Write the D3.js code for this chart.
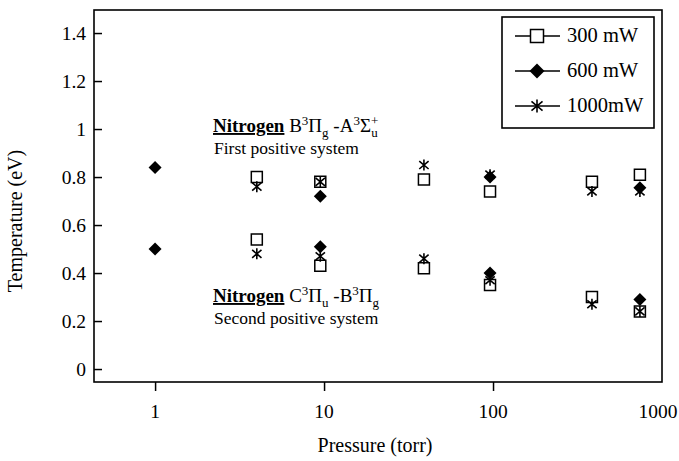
<!DOCTYPE html>
<html>
<head>
<meta charset="utf-8">
<script src="https://cdn.jsdelivr.net/npm/d3@7"></script>
<style>
    body { margin: 0; background: #fff; }
    svg text { font-family: "Liberation Serif", "Times New Roman", Times, serif; fill: #000; }
</style>
</head>
<body>
<script>
//pressures (torr) where each power level was measured
var pressures300 = [4, 9.5, 39, 96, 385, 740];
var pressures600 = [1, 9.5, 96, 740];
var pressures1000 = [4, 9.5, 39, 96, 385, 740];

//first positive system temperatures (eV)
var first300 = [0.80, 0.78, 0.79, 0.74, 0.78, 0.81];
var first600 = [0.84, 0.72, 0.80, 0.755];
var first1000 = [0.76, 0.78, 0.85, 0.81, 0.74, 0.74];

//second positive system temperatures (eV)
var second300 = [0.54, 0.43, 0.42, 0.35, 0.30, 0.24];
var second600 = [0.50, 0.51, 0.40, 0.29];
var second1000 = [0.48, 0.47, 0.46, 0.37, 0.27, 0.24];

//tick labels
var xTicks = [1, 10, 100, 1000];
var yTicks = [0, 0.2, 0.4, 0.6, 0.8, 1, 1.2, 1.4];
var legendLabels = ["300 mW", "600 mW", "1000mW"];

window.onload = function(){

    //chart size
    var w = 679, h = 461;
    var left = 94, right = 662, plotTop = 10, plotBottom = 382;

    var svg = d3.select("body").append("svg")
        .attr("width", w)
        .attr("height", h)
        .attr("font-family", "Liberation Serif, serif");

    var x = d3.scaleLog().domain([0.435, 1000]).range([left, right]);
    var y = d3.scaleLinear().domain([-0.054, 1.496]).range([plotBottom, plotTop]);

    //marker shapes
    function squarePath(s) {
        return "M" + (-s) + "," + (-s) + "H" + s + "V" + s + "H" + (-s) + "Z";
    }
    function diamondPath(s) {
        return "M0," + (-s) + "L" + s + ",0L0," + s + "L" + (-s) + ",0Z";
    }
    function starPath(s) {
        var dx = s * 0.85, dy = s * 0.72;
        return "M0," + (-s) + "V" + s +
            "M" + (-dx) + "," + (-dy) + "L" + dx + "," + dy +
            "M" + (-dx) + "," + dy + "L" + dx + "," + (-dy);
    }
    function drawMarker(g, type, s) {
        if (type === 0) {
            g.append("path").attr("d", squarePath(s + 0.5))
                .attr("fill", "#fff").attr("stroke", "#000").attr("stroke-width", 1.5);
        } else if (type === 1) {
            g.append("path").attr("d", diamondPath(s + 1.5))
                .attr("fill", "#000");
        } else {
            g.append("path").attr("d", starPath(s + 0.5))
                .attr("fill", "none").attr("stroke", "#000").attr("stroke-width", 1.6);
        }
    }

    //y axis ticks point inward
    var yAxis = d3.axisRight(y).tickValues(yTicks).tickSize(8).tickFormat("");
    svg.append("g")
        .attr("transform", "translate(" + left + ",0)")
        .call(yAxis)
        .call(function(g){ g.select(".domain").remove(); })
        .selectAll("line").attr("stroke-width", 1.5);

    svg.selectAll(".ylab")
        .data(yTicks)
        .enter()
        .append("text")
        .attr("class", "ylab")
        .attr("x", 86)
        .attr("y", function(d){ return y(d) + 7; })
        .attr("text-anchor", "end")
        .style("font-size", "19.5px")
        .text(function(d){ return d3.format("")(d); });

    //x axis ticks point outward
    var xAxis = d3.axisBottom(x).tickValues([1, 10, 100]).tickSize(9).tickFormat("");
    svg.append("g")
        .attr("transform", "translate(0," + plotBottom + ")")
        .call(xAxis)
        .call(function(g){ g.select(".domain").remove(); })
        .selectAll("line").attr("stroke-width", 1.5);

    svg.selectAll(".xlab")
        .data(xTicks)
        .enter()
        .append("text")
        .attr("class", "xlab")
        .attr("x", function(d){ return d === 1000 ? x(d) - 4 : x(d); })
        .attr("y", 418)
        .attr("text-anchor", "middle")
        .style("font-size", "19.5px")
        .text(function(d){ return d; });

    //plot frame
    svg.append("rect")
        .attr("x", left).attr("y", plotTop)
        .attr("width", right - left).attr("height", plotBottom - plotTop)
        .attr("fill", "none").attr("stroke", "#000").attr("stroke-width", 1.6);

    //axis titles
    svg.append("text")
        .attr("x", 375).attr("y", 452)
        .attr("text-anchor", "middle")
        .style("font-size", "20px")
        .text("Pressure (torr)");

    svg.append("text")
        .attr("transform", "translate(22,221) rotate(-90)")
        .attr("text-anchor", "middle")
        .style("font-size", "20px")
        .text("Temperature (eV)");

    //series markers
    var series = [
        { p: pressures300, a: first300, b: second300 },
        { p: pressures600, a: first600, b: second600 },
        { p: pressures1000, a: first1000, b: second1000 }
    ];

    series.forEach(function(s, k){
        var vals = s.a.concat(s.b);
        var ps = s.p.concat(s.p);
        vals.forEach(function(v, i){
            var g = svg.append("g")
                .attr("transform", "translate(" + x(ps[i]) + "," + y(v) + ")");
            drawMarker(g, k, 5);
        });
    });

    //annotations
    function annotate(yy, parts, sub) {
        var t = svg.append("text").attr("x", 213).attr("y", yy).style("font-size", "19px");
        t.append("tspan").style("font-weight", "bold").style("text-decoration", "underline").text("Nitrogen");
        parts.forEach(function(p){
            var ts = t.append("tspan").text(p.t);
            if (p.dx) ts.attr("dx", p.dx);
            if (p.dy) ts.attr("dy", p.dy);
            if (p.small) ts.style("font-size", "13px");
        });
        svg.append("text").attr("x", 214).attr("y", yy + 22)
            .style("font-size", "17.5px").text(sub);
    }

    annotate(132, [
        { t: " B" }, { t: "3", dy: -7, small: 1 }, { t: "Π", dy: 7 }, { t: "g", dy: 5, small: 1 },
        { t: " -A", dy: -5 }, { t: "3", dy: -7, small: 1 }, { t: "Σ", dy: 7 },
        { t: "+", dy: -7, small: 1 }, { t: "u", dx: -7, dy: 12, small: 1 }
    ], "First positive system");

    annotate(302, [
        { t: " C" }, { t: "3", dy: -7, small: 1 }, { t: "Π", dy: 7 }, { t: "u", dy: 5, small: 1 },
        { t: " -B", dy: -5 }, { t: "3", dy: -7, small: 1 }, { t: "Π", dy: 7 }, { t: "g", dy: 5, small: 1 }
    ], "Second positive system");

    //legend
    var legend = svg.append("g");
    legend.append("rect")
        .attr("x", 502).attr("y", 17)
        .attr("width", 152).attr("height", 111)
        .attr("fill", "#fff").attr("stroke", "#000").attr("stroke-width", 1.6);

    legendLabels.forEach(function(label, i){
        var ly = 36 + i * 35;
        legend.append("line")
            .attr("x1", 515).attr("x2", 560)
            .attr("y1", ly).attr("y2", ly)
            .attr("stroke", "#000").attr("stroke-width", 1.3);
        var g = legend.append("g").attr("transform", "translate(537," + ly + ")");
        drawMarker(g, i, 6);
        legend.append("text")
            .attr("x", 567).attr("y", ly + 6)
            .style("font-size", "20.5px")
            .text(label);
    });
};
</script>
</body>
</html>
